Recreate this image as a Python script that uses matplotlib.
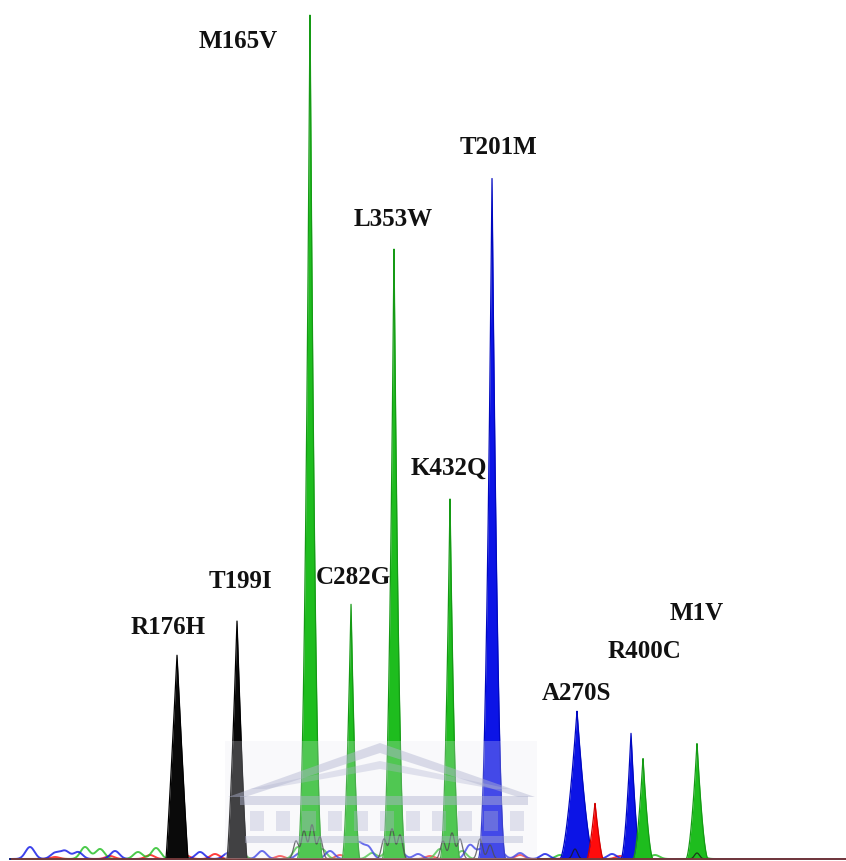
import numpy as np
import matplotlib.pyplot as plt
from matplotlib.patches import Polygon, Rectangle

# main peaks: centre (scan position), height, half base width, dye colour
peak_pos = [177, 237, 310, 351, 394, 450, 492, 577, 595, 631, 643, 697]
peak_height = [204, 238, 851, 256, 612, 360, 682, 148, 56, 126, 101, 116]
peak_base = [11, 10, 13, 9, 12, 10, 14, 17, 8, 10, 10, 11]
peak_sharp = [1.1, 1.3, 2.3, 1.8, 2.2, 2.0, 2.2, 1.6, 1.4, 1.7, 1.7, 1.7]
peak_dye = ['black', 'black', 'green', 'green', 'green', 'green', 'blue',
            'blue', 'red', 'blue', 'green', 'green']

# labels
labels = ['M165V', 'T201M', 'L353W', 'K432Q', 'C282G', 'T199I', 'R176H',
          'M1V', 'R400C', 'A270S']
label_x = [238, 499, 393, 449, 353, 240, 168, 697, 645, 577]
label_y = [817, 712, 639, 391, 281, 278, 231, 246, 208, 166]

# small background bumps along the baseline
noise_pos = {
    'blue': [30, 55, 65, 78, 115, 200, 228, 262, 300, 330, 358, 368, 400, 418, 470, 482, 500, 520, 545, 612],
    'green': [85, 100, 138, 156, 180, 240, 298, 322, 372, 388, 440, 462, 560, 655, 700],
    'red': [55, 110, 150, 185, 215, 240, 280, 340, 430, 520, 570, 620],
}
noise_height = {
    'blue': [12, 6, 8, 7, 8, 7, 6, 8, 6, 8, 16, 12, 8, 5, 14, 10, 8, 6, 5, 5],
    'green': [12, 10, 7, 11, 6, 8, 12, 10, 6, 8, 10, 8, 4, 4, 4],
    'red': [2, 3, 4, 4, 5, 4, 3, 4, 3, 4, 4, 3],
}
# dark traces sitting at the foot of the big peaks
foot_pos = [296, 304, 312, 320, 384, 392, 400, 443, 452, 460, 480, 490, 575, 697]
foot_height = [18, 28, 34, 22, 20, 30, 24, 18, 26, 20, 20, 14, 10, 6]

dye_fill = {'black': '#0a0a0a', 'green': '#1ebd1e', 'blue': '#0c14e6', 'red': '#ff0c0c'}
dye_edge = {'black': '#000000', 'green': '#159a15', 'blue': '#0008c0', 'red': '#d00000'}

fig = plt.figure(figsize=(8.46, 8.61), dpi=100)
ax = fig.add_axes([0, 0, 1, 1])
ax.set_xlim(0, 846)
ax.set_ylim(-2, 859)
ax.axis('off')

x = np.linspace(10, 846, 8000)

# baseline noise
for dye in ['red', 'green', 'blue']:
    y = np.zeros_like(x)
    for p, h in zip(noise_pos[dye], noise_height[dye]):
        y += h * np.exp(-0.5 * ((x - p) / 4.5) ** 2)
    ax.plot(x, y, color=dye_fill[dye], lw=1.4, alpha=0.8, zorder=2)

# peaks
for p, h, w, s, dye in zip(peak_pos, peak_height, peak_base, peak_sharp, peak_dye):
    d = np.clip(1 - np.abs(x - p) / w, 0, None)
    y = h * d ** s
    m = y > 0
    ax.fill_between(x[m], 0, y[m], color=dye_fill[dye], lw=0, zorder=3)
    ax.plot(x[m], y[m], color=dye_edge[dye], lw=0.9, zorder=3)

yb = np.zeros_like(x)
for p, h in zip(foot_pos, foot_height):
    yb += h * np.exp(-0.5 * ((x - p) / 2.5) ** 2)
ax.plot(x, yb, color='#1a1a1a', lw=0.9, alpha=0.8, zorder=4)

ax.plot([12, 846], [0, 0], color='#7a3b3b', lw=1.3, zorder=5)

# faint watermark (temple logo) over the traces
wm = '#b0b4d0'
ax.add_patch(Rectangle((225, 0), 312, 118, color='#e8e8f0', alpha=0.25, lw=0, zorder=6))
ax.add_patch(Polygon([[228, 62], [380, 116], [535, 62], [518, 62], [380, 106], [245, 62]],
                     closed=True, color=wm, alpha=0.45, lw=0, zorder=6))
ax.add_patch(Polygon([[250, 70], [380, 98], [510, 70], [494, 70], [380, 90], [266, 70]],
                     closed=True, color=wm, alpha=0.35, lw=0, zorder=6))
ax.add_patch(Rectangle((240, 54), 288, 9, color=wm, alpha=0.45, lw=0, zorder=6))
for cx in range(250, 520, 26):
    ax.add_patch(Rectangle((cx, 28), 14, 20, color=wm, alpha=0.35, lw=0, zorder=6))
ax.add_patch(Rectangle((245, 16), 278, 7, color=wm, alpha=0.4, lw=0, zorder=6))

for t, lx, ly in zip(labels, label_x, label_y):
    ax.text(lx, ly, t, ha='center', va='center', fontsize=18,
            fontweight='bold', family='Liberation Serif', color='#111111', zorder=7)

fig.savefig('out.png', dpi=100)
